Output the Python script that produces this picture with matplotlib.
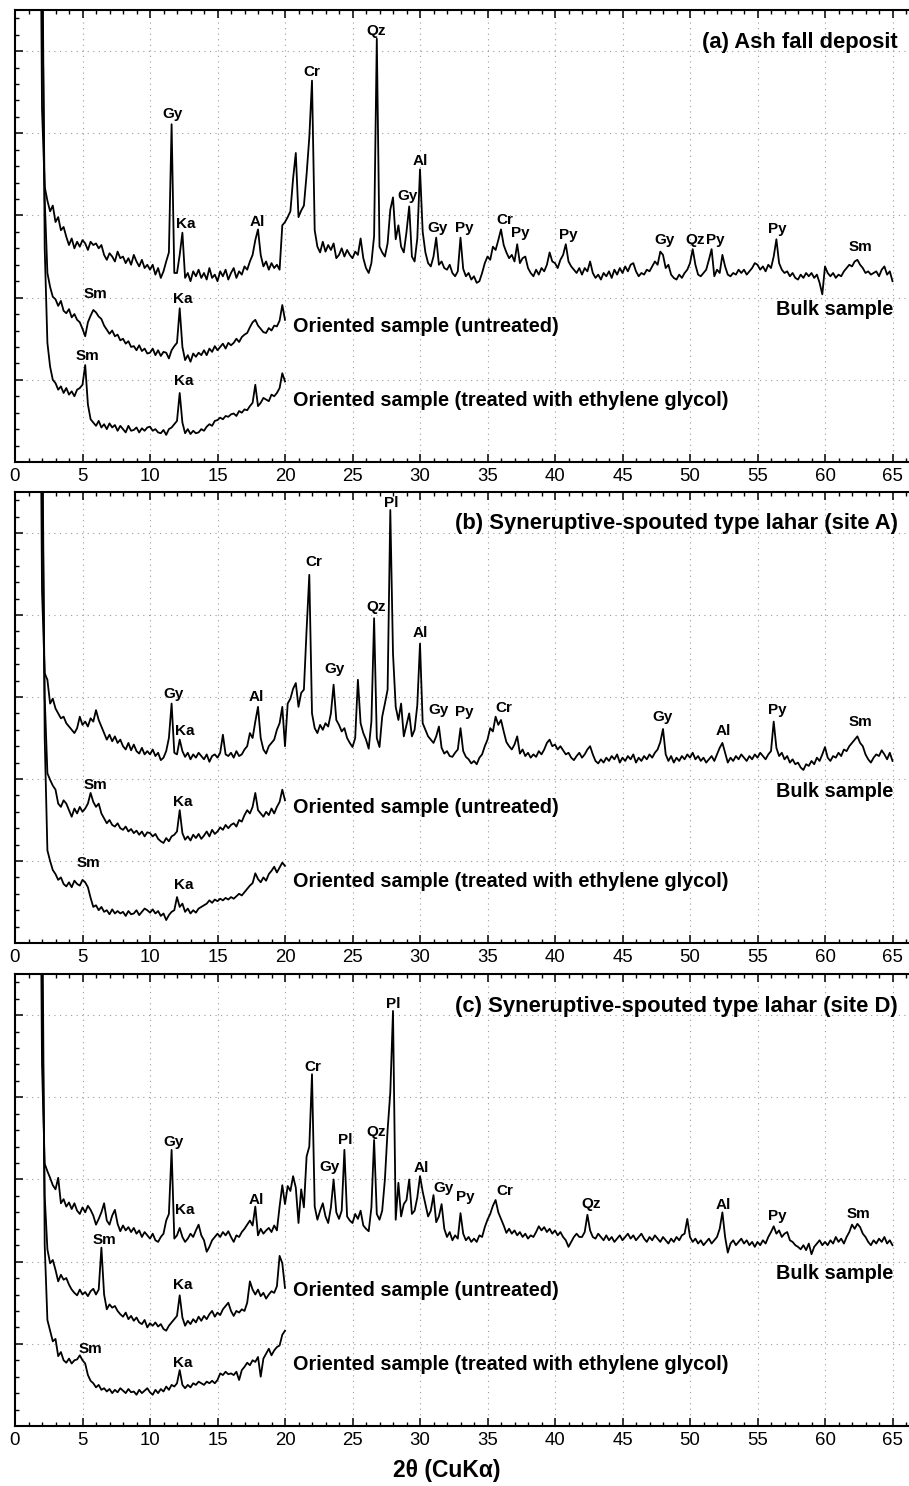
import numpy as np
import matplotlib
matplotlib.use('Agg')
import matplotlib.pyplot as plt
from matplotlib.ticker import MultipleLocator

plt.rcParams['font.family'] = ['Liberation Sans', 'DejaVu Sans']

# 2-theta grid: bulk traces 1.8-65.0, oriented traces 1.8-20.0, step 0.2
two_theta_start = 1.8
two_theta_step = 0.2

# ---------------- (a) Ash fall deposit ----------------
bulk_a = [9.0,
    4.30, 3.35, 3.18, 3.05, 3.12, 2.92, 2.98, 2.82, 2.86, 2.74,   # 2.0
    2.64, 2.72, 2.60, 2.68, 2.62, 2.70, 2.66, 2.58, 2.68, 2.64,   # 4.0
    2.66, 2.60, 2.64, 2.52, 2.46, 2.54, 2.50, 2.44, 2.56, 2.48,   # 6.0
    2.50, 2.42, 2.48, 2.40, 2.52, 2.44, 2.38, 2.46, 2.36, 2.40,   # 8.0
    2.34, 2.40, 2.28, 2.36, 2.24, 2.32, 2.44, 2.55, 4.11, 2.30,   # 10.0
    2.30, 2.52, 2.79, 2.24, 2.30, 2.20, 2.32, 2.26, 2.34, 2.24,   # 12.0
    2.30, 2.22, 2.36, 2.24, 2.28, 2.20, 2.32, 2.26, 2.34, 2.22,   # 14.0
    2.30, 2.36, 2.24, 2.32, 2.28, 2.38, 2.34, 2.44, 2.52, 2.70,   # 16.0
    2.83, 2.52, 2.38, 2.44, 2.34, 2.42, 2.36, 2.40, 2.34, 2.88,   # 18.0
    2.92, 2.98, 3.05, 3.45, 3.76, 2.98, 3.06, 3.12, 3.50, 3.95,   # 20.0
    4.64, 2.82, 2.62, 2.55, 2.68, 2.56, 2.64, 2.58, 2.66, 2.48,   # 22.0
    2.52, 2.60, 2.50, 2.58, 2.52, 2.48, 2.56, 2.52, 2.72, 2.48,   # 24.0
    2.36, 2.30, 2.42, 2.75, 5.15, 2.62, 2.55, 2.50, 2.66, 3.07,   # 26.0
    3.22, 2.71, 2.88, 2.62, 2.55, 2.80, 3.11, 2.50, 2.44, 2.72,   # 28.0
    3.56, 2.80, 2.55, 2.42, 2.38, 2.50, 2.73, 2.40, 2.44, 2.36,   # 30.0
    2.34, 2.40, 2.30, 2.26, 2.32, 2.73, 2.35, 2.26, 2.30, 2.22,   # 32.0
    2.26, 2.18, 2.20, 2.30, 2.42, 2.50, 2.46, 2.62, 2.58, 2.70,   # 34.0
    2.83, 2.64, 2.55, 2.48, 2.52, 2.44, 2.65, 2.42, 2.48, 2.50,   # 36.0
    2.36, 2.30, 2.26, 2.34, 2.28, 2.36, 2.32, 2.40, 2.55, 2.44,   # 38.0
    2.42, 2.36, 2.46, 2.52, 2.65, 2.44, 2.38, 2.34, 2.30, 2.36,   # 40.0
    2.28, 2.36, 2.32, 2.44, 2.30, 2.24, 2.28, 2.22, 2.30, 2.26,   # 42.0
    2.32, 2.24, 2.34, 2.28, 2.36, 2.30, 2.38, 2.32, 2.40, 2.42,   # 44.0
    2.32, 2.26, 2.30, 2.28, 2.34, 2.32, 2.38, 2.44, 2.40, 2.56,   # 46.0
    2.52, 2.36, 2.40, 2.28, 2.24, 2.22, 2.28, 2.24, 2.30, 2.34,   # 48.0
    2.42, 2.59, 2.40, 2.28, 2.26, 2.30, 2.34, 2.46, 2.59, 2.26,   # 50.0
    2.34, 2.30, 2.52, 2.38, 2.28, 2.26, 2.30, 2.28, 2.34, 2.30,   # 52.0
    2.34, 2.28, 2.32, 2.36, 2.42, 2.40, 2.34, 2.38, 2.32, 2.40,   # 54.0
    2.36, 2.50, 2.71, 2.42, 2.34, 2.30, 2.32, 2.26, 2.30, 2.24,   # 56.0
    2.22, 2.28, 2.24, 2.30, 2.26, 2.30, 2.24, 2.28, 2.18, 2.04,   # 58.0
    2.38, 2.30, 2.26, 2.30, 2.24, 2.28, 2.26, 2.32, 2.36, 2.40,   # 60.0
    2.38, 2.44, 2.46, 2.40, 2.36, 2.30, 2.32, 2.28, 2.30, 2.32,   # 62.0
    2.26, 2.34, 2.38, 2.28, 2.32, 2.20]                           # 64.0

untreated_a = [12.0,
    6.00, 3.20, 2.30, 2.13, 2.01, 1.98, 1.90, 1.96, 1.84, 1.81,   # 2.0
    1.86, 1.76, 1.80, 1.73, 1.70, 1.62, 1.53, 1.70, 1.78, 1.85,   # 4.0
    1.82, 1.77, 1.74, 1.66, 1.61, 1.56, 1.60, 1.53, 1.55, 1.48,   # 6.0
    1.50, 1.44, 1.47, 1.40, 1.41, 1.36, 1.42, 1.35, 1.38, 1.32,   # 8.0
    1.33, 1.38, 1.30, 1.36, 1.29, 1.34, 1.33, 1.26, 1.36, 1.41,   # 10.0
    1.45, 1.87, 1.40, 1.24, 1.30, 1.22, 1.32, 1.28, 1.33, 1.30,   # 12.0
    1.36, 1.30, 1.38, 1.34, 1.41, 1.36, 1.40, 1.44, 1.38, 1.45,   # 14.0
    1.42, 1.45, 1.50, 1.46, 1.52, 1.55, 1.57, 1.64, 1.70, 1.73,   # 16.0
    1.66, 1.62, 1.58, 1.57, 1.63, 1.60, 1.66, 1.65, 1.72, 1.91,   # 18.0
    1.73]

treated_a = [14.0,
    7.00, 2.60, 1.45, 1.16, 1.00, 0.96, 0.88, 0.92, 0.84, 0.90,   # 2.0
    0.82, 0.86, 0.80, 0.88, 0.90, 0.94, 1.18, 0.70, 0.52, 0.48,   # 4.0
    0.44, 0.50, 0.42, 0.46, 0.40, 0.47, 0.42, 0.45, 0.38, 0.44,   # 6.0
    0.40, 0.36, 0.44, 0.38, 0.39, 0.42, 0.36, 0.41, 0.38, 0.42,   # 8.0
    0.43, 0.38, 0.40, 0.36, 0.35, 0.39, 0.33, 0.40, 0.42, 0.46,   # 10.0
    0.50, 0.84, 0.48, 0.35, 0.40, 0.34, 0.38, 0.35, 0.36, 0.40,   # 12.0
    0.38, 0.43, 0.46, 0.44, 0.50, 0.51, 0.54, 0.52, 0.56, 0.55,   # 14.0
    0.58, 0.59, 0.56, 0.62, 0.60, 0.64, 0.63, 0.68, 0.72, 0.94,   # 16.0
    0.68, 0.72, 0.78, 0.76, 0.74, 0.82, 0.80, 0.84, 0.90, 1.08,   # 18.0
    0.98]

# ---------------- (b) Syneruptive-spouted type lahar (site A) ----------------
bulk_b = [9.0,
    4.30, 3.29, 3.21, 2.92, 2.98, 2.86, 2.80, 2.74, 2.76, 2.68,   # 2.0
    2.64, 2.60, 2.56, 2.62, 2.76, 2.66, 2.70, 2.64, 2.74, 2.70,   # 4.0
    2.84, 2.72, 2.64, 2.56, 2.48, 2.54, 2.46, 2.52, 2.44, 2.48,   # 6.0
    2.40, 2.36, 2.44, 2.35, 2.42, 2.34, 2.31, 2.38, 2.30, 2.34,   # 8.0
    2.30, 2.36, 2.28, 2.32, 2.23, 2.26, 2.34, 2.50, 2.92, 2.32,   # 10.0
    2.30, 2.48, 2.34, 2.27, 2.32, 2.24, 2.30, 2.26, 2.32, 2.28,   # 12.0
    2.24, 2.30, 2.21, 2.28, 2.30, 2.26, 2.32, 2.54, 2.30, 2.28,   # 14.0
    2.32, 2.26, 2.34, 2.28, 2.30, 2.36, 2.40, 2.56, 2.50, 2.70,   # 16.0
    2.88, 2.50, 2.36, 2.31, 2.40, 2.44, 2.48, 2.60, 2.68, 2.88,   # 18.0
    2.40, 2.92, 2.98, 3.10, 3.17, 2.88, 3.05, 3.09, 3.82, 4.49,   # 20.0
    2.80, 2.62, 2.56, 2.66, 2.60, 2.68, 2.64, 2.80, 3.15, 2.72,   # 22.0
    2.66, 2.58, 2.62, 2.50, 2.44, 2.39, 2.50, 3.21, 2.68, 2.56,   # 24.0
    2.48, 2.37, 2.70, 3.96, 2.50, 2.39, 2.76, 2.92, 3.09, 5.28,   # 26.0
    3.53, 2.88, 2.72, 2.92, 2.52, 2.66, 2.80, 2.52, 2.60, 2.90,   # 28.0
    3.65, 2.68, 2.60, 2.52, 2.48, 2.44, 2.52, 2.64, 2.38, 2.31,   # 30.0
    2.34, 2.28, 2.27, 2.32, 2.36, 2.62, 2.34, 2.27, 2.24, 2.19,   # 32.0
    2.22, 2.18, 2.26, 2.30, 2.40, 2.48, 2.62, 2.58, 2.76, 2.66,   # 34.0
    2.72, 2.58, 2.45, 2.40, 2.36, 2.42, 2.52, 2.31, 2.36, 2.28,   # 36.0
    2.32, 2.26, 2.30, 2.27, 2.34, 2.30, 2.36, 2.44, 2.48, 2.40,   # 38.0
    2.42, 2.36, 2.40, 2.35, 2.30, 2.32, 2.26, 2.23, 2.28, 2.32,   # 40.0
    2.26, 2.30, 2.36, 2.40, 2.30, 2.22, 2.19, 2.24, 2.20, 2.26,   # 42.0
    2.22, 2.28, 2.24, 2.30, 2.20, 2.26, 2.22, 2.28, 2.24, 2.30,   # 44.0
    2.20, 2.26, 2.22, 2.28, 2.24, 2.30, 2.26, 2.32, 2.36, 2.45,   # 46.0
    2.61, 2.30, 2.22, 2.28, 2.20, 2.26, 2.22, 2.28, 2.24, 2.30,   # 48.0
    2.26, 2.32, 2.24, 2.28, 2.22, 2.26, 2.20, 2.24, 2.28, 2.22,   # 50.0
    2.30, 2.38, 2.44, 2.32, 2.20, 2.26, 2.22, 2.28, 2.24, 2.30,   # 52.0
    2.26, 2.22, 2.28, 2.24, 2.30, 2.26, 2.32, 2.28, 2.24, 2.30,   # 54.0
    2.34, 2.70, 2.38, 2.28, 2.32, 2.24, 2.28, 2.20, 2.24, 2.18,   # 56.0
    2.20, 2.14, 2.11, 2.18, 2.16, 2.22, 2.18, 2.26, 2.22, 2.30,   # 58.0
    2.39, 2.26, 2.22, 2.28, 2.26, 2.32, 2.28, 2.36, 2.34, 2.40,   # 60.0
    2.44, 2.48, 2.52, 2.44, 2.40, 2.30, 2.24, 2.20, 2.26, 2.30,   # 62.0
    2.28, 2.35, 2.30, 2.24, 2.32, 2.22]                           # 64.0

untreated_b = [12.0,
    6.00, 3.00, 2.07, 1.99, 1.92, 1.87, 1.70, 1.66, 1.74, 1.70,   # 2.0
    1.62, 1.54, 1.64, 1.58, 1.66, 1.60, 1.64, 1.70, 1.83, 1.72,   # 4.0
    1.66, 1.70, 1.58, 1.52, 1.46, 1.50, 1.44, 1.42, 1.46, 1.40,   # 6.0
    1.38, 1.42, 1.36, 1.39, 1.34, 1.37, 1.32, 1.36, 1.30, 1.35,   # 8.0
    1.34, 1.30, 1.33, 1.27, 1.24, 1.22, 1.28, 1.24, 1.30, 1.32,   # 10.0
    1.36, 1.62, 1.34, 1.26, 1.30, 1.25, 1.32, 1.28, 1.33, 1.27,   # 12.0
    1.31, 1.36, 1.30, 1.38, 1.33, 1.36, 1.41, 1.38, 1.44, 1.40,   # 14.0
    1.44, 1.46, 1.42, 1.50, 1.48, 1.56, 1.62, 1.58, 1.66, 1.83,   # 16.0
    1.62, 1.58, 1.54, 1.60, 1.56, 1.64, 1.58, 1.66, 1.72, 1.87,   # 18.0
    1.74]

treated_b = [14.0,
    7.00, 2.50, 1.13, 1.00, 0.89, 0.84, 0.77, 0.80, 0.72, 0.69,   # 2.0
    0.74, 0.68, 0.76, 0.72, 0.70, 0.77, 0.74, 0.68, 0.55, 0.44,   # 4.0
    0.46, 0.40, 0.44, 0.38, 0.40, 0.35, 0.41, 0.36, 0.39, 0.36,   # 6.0
    0.38, 0.33, 0.39, 0.35, 0.36, 0.40, 0.34, 0.38, 0.42, 0.40,   # 8.0
    0.37, 0.41, 0.36, 0.39, 0.33, 0.36, 0.28, 0.34, 0.38, 0.40,   # 10.0
    0.56, 0.44, 0.48, 0.38, 0.42, 0.36, 0.40, 0.37, 0.42, 0.44,   # 12.0
    0.46, 0.48, 0.52, 0.49, 0.53, 0.51, 0.54, 0.52, 0.55, 0.53,   # 14.0
    0.56, 0.54, 0.57, 0.60, 0.58, 0.62, 0.66, 0.70, 0.73, 0.85,   # 16.0
    0.78, 0.74, 0.80, 0.76, 0.84, 0.88, 0.93, 0.86, 0.92, 0.98,   # 18.0
    0.94]

# ---------------- (c) Syneruptive-spouted type lahar (site D) ----------------
bulk_c = [9.0,
    4.40, 3.19, 3.10, 3.02, 2.93, 2.88, 3.02, 2.71, 2.76, 2.67,   # 2.0
    2.72, 2.64, 2.71, 2.62, 2.58, 2.66, 2.60, 2.68, 2.63, 2.56,   # 4.0
    2.45, 2.52, 2.60, 2.71, 2.50, 2.45, 2.56, 2.63, 2.46, 2.37,   # 6.0
    2.44, 2.38, 2.42, 2.36, 2.41, 2.34, 2.38, 2.30, 2.36, 2.32,   # 8.0
    2.28, 2.34, 2.26, 2.24, 2.30, 2.34, 2.50, 2.58, 3.36, 2.28,   # 10.0
    2.32, 2.41, 2.30, 2.24, 2.28, 2.34, 2.30, 2.38, 2.45, 2.32,   # 12.0
    2.26, 2.12, 2.18, 2.26, 2.30, 2.34, 2.30, 2.36, 2.32, 2.37,   # 14.0
    2.30, 2.24, 2.32, 2.30, 2.36, 2.40, 2.45, 2.50, 2.44, 2.67,   # 16.0
    2.32, 2.40, 2.34, 2.38, 2.41, 2.36, 2.44, 2.38, 2.67, 2.93,   # 18.0
    2.70, 2.92, 2.86, 3.04, 2.90, 2.47, 2.88, 2.66, 3.28, 3.40,   # 20.0
    4.28, 2.67, 2.51, 2.62, 2.71, 2.55, 2.47, 2.66, 3.00, 2.60,   # 22.0
    2.52, 2.62, 3.36, 2.55, 2.50, 2.47, 2.58, 2.52, 2.62, 2.44,   # 24.0
    2.40, 2.37, 2.66, 3.48, 2.58, 2.51, 2.62, 3.00, 3.60, 4.06,   # 26.0
    5.05, 2.51, 2.96, 2.55, 2.70, 2.75, 3.00, 2.58, 2.62, 2.78,   # 28.0
    3.04, 2.85, 2.70, 2.55, 2.62, 2.81, 2.48, 2.55, 2.70, 2.40,   # 30.0
    2.30, 2.36, 2.26, 2.32, 2.28, 2.59, 2.34, 2.26, 2.30, 2.24,   # 32.0
    2.28, 2.24, 2.32, 2.30, 2.42, 2.51, 2.58, 2.68, 2.75, 2.60,   # 34.0
    2.52, 2.44, 2.35, 2.40, 2.34, 2.38, 2.32, 2.36, 2.30, 2.34,   # 36.0
    2.28, 2.32, 2.30, 2.36, 2.43, 2.38, 2.42, 2.36, 2.40, 2.34,   # 38.0
    2.38, 2.32, 2.36, 2.30, 2.26, 2.18, 2.24, 2.30, 2.34, 2.30,   # 40.0
    2.30, 2.36, 2.57, 2.38, 2.30, 2.28, 2.34, 2.30, 2.26, 2.32,   # 42.0
    2.26, 2.30, 2.24, 2.28, 2.32, 2.26, 2.30, 2.34, 2.28, 2.32,   # 44.0
    2.26, 2.30, 2.34, 2.28, 2.24, 2.30, 2.26, 2.32, 2.28, 2.24,   # 46.0
    2.30, 2.26, 2.22, 2.28, 2.24, 2.30, 2.26, 2.32, 2.34, 2.52,   # 48.0
    2.30, 2.24, 2.28, 2.22, 2.26, 2.20, 2.24, 2.28, 2.22, 2.26,   # 50.0
    2.30, 2.40, 2.60, 2.30, 2.11, 2.22, 2.26, 2.20, 2.24, 2.28,   # 52.0
    2.22, 2.26, 2.20, 2.24, 2.18, 2.24, 2.20, 2.26, 2.22, 2.30,   # 54.0
    2.36, 2.43, 2.34, 2.38, 2.30, 2.34, 2.36, 2.26, 2.24, 2.20,   # 56.0
    2.18, 2.15, 2.20, 2.14, 2.22, 2.09, 2.18, 2.22, 2.26, 2.20,   # 58.0
    2.24, 2.20, 2.26, 2.22, 2.30, 2.24, 2.28, 2.22, 2.30, 2.36,   # 60.0
    2.45, 2.40, 2.46, 2.42, 2.34, 2.30, 2.24, 2.20, 2.26, 2.22,   # 62.0
    2.28, 2.24, 2.30, 2.22, 2.26, 2.20]                           # 64.0

untreated_c = [12.0,
    5.50, 2.80, 2.15, 1.98, 2.02, 1.90, 1.76, 1.84, 1.78, 1.80,   # 2.0
    1.72, 1.66, 1.62, 1.59, 1.66, 1.60, 1.63, 1.58, 1.64, 1.67,   # 4.0
    1.60, 1.66, 2.17, 1.60, 1.42, 1.48, 1.44, 1.46, 1.40, 1.36,   # 6.0
    1.33, 1.38, 1.30, 1.34, 1.28, 1.32, 1.26, 1.24, 1.29, 1.20,   # 8.0
    1.25, 1.22, 1.26, 1.21, 1.24, 1.18, 1.16, 1.22, 1.26, 1.30,   # 10.0
    1.34, 1.59, 1.32, 1.22, 1.28, 1.24, 1.30, 1.26, 1.33, 1.28,   # 12.0
    1.34, 1.30, 1.36, 1.40, 1.33, 1.38, 1.35, 1.42, 1.46, 1.50,   # 14.0
    1.40, 1.34, 1.40, 1.38, 1.42, 1.40, 1.50, 1.76, 1.66, 1.60,   # 16.0
    1.66, 1.58, 1.62, 1.55, 1.60, 1.64, 1.62, 1.70, 2.07, 1.98,   # 18.0
    1.68]

treated_c = [14.0,
    7.00, 2.20, 1.29, 1.16, 1.03, 1.06, 0.85, 0.90, 0.80, 0.77,   # 2.0
    0.82, 0.76, 0.80, 0.81, 0.86, 0.80, 0.76, 0.62, 0.55, 0.52,   # 4.0
    0.47, 0.50, 0.44, 0.46, 0.42, 0.45, 0.40, 0.44, 0.41, 0.46,   # 6.0
    0.43, 0.40, 0.45, 0.41, 0.42, 0.38, 0.44, 0.40, 0.43, 0.46,   # 8.0
    0.41, 0.38, 0.44, 0.40, 0.45, 0.42, 0.48, 0.44, 0.50, 0.48,   # 10.0
    0.52, 0.68, 0.50, 0.46, 0.50, 0.47, 0.52, 0.50, 0.54, 0.52,   # 12.0
    0.50, 0.54, 0.52, 0.55, 0.52, 0.56, 0.64, 0.62, 0.66, 0.63,   # 14.0
    0.64, 0.62, 0.66, 0.56, 0.68, 0.72, 0.77, 0.74, 0.80, 0.78,   # 16.0
    0.84, 0.60, 0.82, 0.88, 0.94, 0.86, 0.92, 0.96, 0.98, 1.11,   # 18.0
    1.16]

# ---------------- peak labels ----------------
peak_names_a = ['Gy', 'Ka', 'Al', 'Cr', 'Qz', 'Gy', 'Al', 'Gy', 'Py', 'Cr', 'Py',
                'Py', 'Gy', 'Qz', 'Py', 'Py', 'Sm', 'Sm', 'Ka', 'Sm', 'Ka']
peak_x_a = [11.7, 12.65, 17.98, 22.0, 26.72, 29.09, 30.02, 31.28, 33.28, 36.3, 37.4,
            40.99, 48.15, 50.37, 51.85, 56.5, 62.6, 5.98, 12.4, 5.36, 12.47]
peak_y_a = [4.23, 2.90, 2.92, 4.75, 5.24, 3.24, 3.66, 2.85, 2.85, 2.94, 2.79,
            2.76, 2.70, 2.70, 2.70, 2.83, 2.62, 2.04, 1.98, 1.29, 0.98]

peak_names_b = ['Gy', 'Ka', 'Al', 'Cr', 'Gy', 'Qz', 'Pl', 'Al', 'Gy', 'Py', 'Cr',
                'Gy', 'Al', 'Py', 'Sm', 'Sm', 'Ka', 'Sm', 'Ka']
peak_x_b = [11.73, 12.6, 17.85, 22.1, 23.7, 26.74, 27.85, 30.05, 31.4, 33.26, 36.2,
            48.0, 52.5, 56.5, 62.6, 5.98, 12.4, 5.43, 12.47]
peak_y_b = [3.04, 2.59, 3.0, 4.65, 3.34, 4.10, 5.37, 3.78, 2.84, 2.82, 2.87,
            2.75, 2.59, 2.84, 2.70, 1.93, 1.72, 0.97, 0.71]

peak_names_c = ['Gy', 'Ka', 'Al', 'Cr', 'Gy', 'Pl', 'Qz', 'Pl', 'Al', 'Gy', 'Py',
                'Cr', 'Qz', 'Al', 'Py', 'Sm', 'Sm', 'Ka', 'Sm', 'Ka']
peak_x_c = [11.72, 12.54, 17.85, 22.05, 23.33, 24.44, 26.74, 28.02, 30.07, 31.73, 33.33,
            36.3, 42.7, 52.47, 56.5, 62.47, 6.6, 12.4, 5.56, 12.4]
peak_y_c = [3.46, 2.63, 2.75, 4.37, 3.15, 3.48, 3.58, 5.13, 3.14, 2.89, 2.79,
            2.86, 2.70, 2.69, 2.56, 2.58, 2.26, 1.72, 0.94, 0.77]

panel_titles = ['(a) Ash fall deposit',
                '(b) Syneruptive-spouted type lahar (site A)',
                '(c) Syneruptive-spouted type lahar (site D)']
trace_labels = ['Bulk sample', 'Oriented sample (untreated)',
                'Oriented sample (treated with ethylene glycol)']

panels = [
    (bulk_a, untreated_a, treated_a, peak_names_a, peak_x_a, peak_y_a),
    (bulk_b, untreated_b, treated_b, peak_names_b, peak_x_b, peak_y_b),
    (bulk_c, untreated_c, treated_c, peak_names_c, peak_x_c, peak_y_c),
]

W, H = 909, 1486
fig = plt.figure(figsize=(W / 100, H / 100), dpi=100)

# axes boxes in pixels: (top, bottom)
boxes = [(10, 462), (492, 943), (974, 1426)]
left_px = 15
xmax = (W - left_px) / 13.5

for i, (bulk, untr, treat, names, px, py) in enumerate(panels):
    top, bot = boxes[i]
    ax = fig.add_axes([left_px / W, 1 - bot / H, (W - left_px) / W, (bot - top) / H])

    xb = two_theta_start + two_theta_step * np.arange(len(bulk))
    xu = two_theta_start + two_theta_step * np.arange(len(untr))
    xt = two_theta_start + two_theta_step * np.arange(len(treat))
    ax.plot(xb, bulk, color='black', lw=1.3)
    ax.plot(xu, untr, color='black', lw=1.3)
    ax.plot(xt, treat, color='black', lw=1.3)

    ax.set_xlim(0, xmax)
    ax.set_ylim(0, 5.5)
    ax.xaxis.set_major_locator(MultipleLocator(5))
    ax.xaxis.set_minor_locator(MultipleLocator(1))
    ax.yaxis.set_major_locator(MultipleLocator(1))
    ax.yaxis.set_minor_locator(MultipleLocator(0.2))
    ax.tick_params(which='both', direction='in', top=True, right=False,
                   labelleft=False, color='black')
    ax.tick_params(which='major', length=6, width=1.1)
    ax.tick_params(which='minor', length=3, width=1.0)
    ax.tick_params(axis='x', labelsize=13.4, pad=4)
    ax.spines['right'].set_visible(False)
    for s in ['left', 'top', 'bottom']:
        ax.spines[s].set_linewidth(1.5)
    ax.grid(True, which='major', linestyle=(0, (1, 4)), color='#9a9a9a', lw=0.8)

    for name, x, y in zip(names, px, py):
        ax.text(x, y, name, ha='center', va='center', fontsize=11, fontweight='bold')

    ax.text(65.4, 5.11, panel_titles[i], ha='right', va='center',
            fontsize=15.8, fontweight='bold')
    ax.text(65.04, 1.85, trace_labels[0], ha='right', va='center',
            fontsize=14.3, fontweight='bold')
    ax.text(20.56, 1.65, trace_labels[1], ha='left', va='center',
            fontsize=14.3, fontweight='bold')
    ax.text(20.56, 0.75, trace_labels[2], ha='left', va='center',
            fontsize=14.3, fontweight='bold')

fig.text(447 / W, 1 - 1470 / H, '2θ (CuKα)', ha='center', va='center',
         fontsize=16.5, fontweight='bold')

fig.savefig('out.png', dpi=100)
